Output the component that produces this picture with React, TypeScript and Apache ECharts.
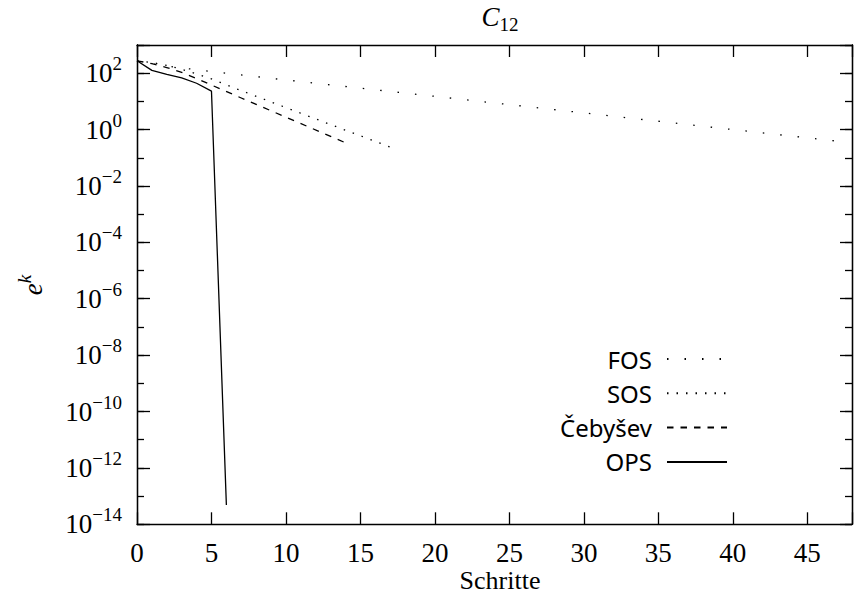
import React, { useEffect, useRef } from "react";
import * as echarts from "echarts";

// ---- data ----
const xMin = 0;
const xMax = 48;
const xInterval = 5;
const yMin = 1e-14;
const yMax = 1e3;

const seriesNames = ["FOS", "SOS", "Čebyšev", "OPS"];

const fosSteps = [0, 1, 2, 3, 4, 10, 20, 30, 40, 47];
const fosErr = [275, 214, 178, 155, 132, 57.5, 15.1, 3.9, 1.0, 0.39];

const sosSteps = [0, 1, 2, 3, 4, 5, 7, 10, 14, 17];
const sosErr = [275, 240, 190, 138, 95, 63, 24, 6.0, 0.95, 0.24];

const chebSteps = [0, 1, 2, 3, 4, 5, 7, 10, 14];
const chebErr = [275, 219, 158, 107, 65, 38, 13.2, 2.75, 0.34];

const opsSteps = [0, 1, 2, 3, 4, 5, 6];
const opsErr = [275, 126, 91, 68, 44, 23, 4.8e-14];

const SERIF = "'Liberation Serif', 'DejaVu Serif', serif";
const SANS = "'Noto Sans', 'DejaVu Sans', sans-serif";

const zip = (xs: number[], ys: number[]) => xs.map((x, i) => [x, ys[i]]);

const supLabel = (v: number) => {
  const e = Math.round(Math.log10(v));
  if (e > 2) return "";
  const s = e < 0 ? "\u2212" + -e : String(e);
  return "{b|10}{s|" + s + "}";
};

export default function App() {
  const ref = useRef<HTMLDivElement>(null);
  useEffect(() => {
    if (!ref.current) return;
    const chart = echarts.init(ref.current, null, { renderer: "svg" });
    const black = "#000";
    const axisLine = { show: true, lineStyle: { color: black, width: 1.3 } };
    const xBase = {
      type: "value" as const,
      min: xMin,
      max: xMax,
      interval: xInterval,
      splitLine: { show: false },
      axisLine,
    };
    const yBase = {
      type: "log" as const,
      logBase: 10,
      min: yMin,
      max: yMax,
      splitLine: { show: false },
      axisLine,
    };
    const labelRich = {
      b: { fontFamily: SERIF, fontSize: 27, color: black, lineHeight: 38 },
      s: { fontFamily: SERIF, fontSize: 19, color: black, lineHeight: 19, verticalAlign: "top" },
    };
    const lineSeries = (name: string, data: number[][], dash: number[] | "solid") => ({
      name,
      type: "line",
      data,
      xAxisIndex: 0,
      yAxisIndex: 0,
      symbol: "none",
      showSymbol: false,
      clip: true,
      lineStyle: { color: black, width: 1.3, type: dash },
      itemStyle: { color: black },
    });
    chart.setOption({
      animation: false,
      backgroundColor: "#fff",
      grid: { left: 137, right: -8.5, top: 45, bottom: 71.7, containLabel: false },
      xAxis: [
        {
          ...xBase,
          position: "bottom",
          axisTick: { show: true, inside: true, length: 12, lineStyle: { color: black, width: 1.3 } },
          axisLabel: {
            show: true,
            margin: 15,
            fontFamily: SERIF,
            fontSize: 27,
            color: black,
            formatter: (v: number) => (v % 5 === 0 ? String(v) : ""),
          },
        },
        {
          ...xBase,
          position: "top",
          axisTick: { show: true, inside: true, length: 12, lineStyle: { color: black, width: 1.3 } },
          axisLabel: { show: false },
        },
      ],
      yAxis: [
        {
          ...yBase,
          position: "left",
          interval: 2,
          axisTick: { show: true, inside: true, length: 13, lineStyle: { color: black, width: 1.3 } },
          axisLabel: {
            show: true,
            margin: 15,
            formatter: supLabel,
            rich: labelRich,
          },
        },
        {
          ...yBase,
          position: "left",
          interval: 1,
          axisTick: { show: true, inside: true, length: 7, lineStyle: { color: black, width: 1.3 } },
          axisLabel: { show: false },
        },
        {
          ...yBase,
          position: "right",
          interval: 2,
          axisTick: { show: true, inside: true, length: 12, lineStyle: { color: black, width: 1.3 } },
          axisLabel: { show: false },
        },
        {
          ...yBase,
          position: "right",
          interval: 1,
          axisTick: { show: true, inside: true, length: 7, lineStyle: { color: black, width: 1.3 } },
          axisLabel: { show: false },
        },
      ],
      legend: {
        show: true,
        data: seriesNames,
        orient: "vertical",
        align: "right",
        right: 127,
        top: 347,
        padding: 0,
        itemWidth: 60,
        itemHeight: 14,
        itemGap: 10.3,
        selectedMode: false,
        itemStyle: { color: "rgba(0,0,0,0)", borderWidth: 0, opacity: 0 },
        textStyle: {
          fontFamily: SANS,
          fontSize: 24,
          color: black,
          lineHeight: 20,
          padding: [0, 10, 0, 0],
        },
      },
      series: [
        lineSeries(seriesNames[0], zip(fosSteps, fosErr), [1.5, 16]),
        lineSeries(seriesNames[1], zip(sosSteps, sosErr), [1.5, 8]),
        lineSeries(seriesNames[2], zip(chebSteps, chebErr), [6.5, 7]),
        lineSeries(seriesNames[3], zip(opsSteps, opsErr), "solid"),
      ],
      graphic: [
        {
          type: "text",
          x: 500,
          y: 17,
          style: {
            text: "{i|C}{sub|12}",
            textAlign: "center",
            textVerticalAlign: "middle",
            rich: {
              i: { fontFamily: SERIF, fontStyle: "italic", fontSize: 27, lineHeight: 34, fill: black },
              sub: { fontFamily: SERIF, fontSize: 19, lineHeight: 19, verticalAlign: "bottom", fill: black },
            },
          },
        },
        {
          type: "text",
          x: 500,
          y: 580,
          style: {
            text: "Schritte",
            fontFamily: SERIF,
            fontSize: 26,
            fill: black,
            textAlign: "center",
            textVerticalAlign: "middle",
          },
        },
        {
          type: "text",
          x: 33,
          y: 285,
          rotation: Math.PI / 2,
          style: {
            text: "{e|e}{k|k}",
            textAlign: "center",
            textVerticalAlign: "middle",
            rich: {
              e: { fontFamily: SERIF, fontStyle: "italic", fontSize: 27, lineHeight: 36, fill: black },
              k: { fontFamily: SERIF, fontStyle: "italic", fontSize: 19, lineHeight: 19, verticalAlign: "top", fill: black },
            },
          },
        },
      ],
    });
    return () => chart.dispose();
  }, []);
  return (
    <div
      ref={ref}
      style={{ position: "fixed", left: 0, top: 0, width: 855, height: 596, background: "#fff" }}
    />
  );
}
